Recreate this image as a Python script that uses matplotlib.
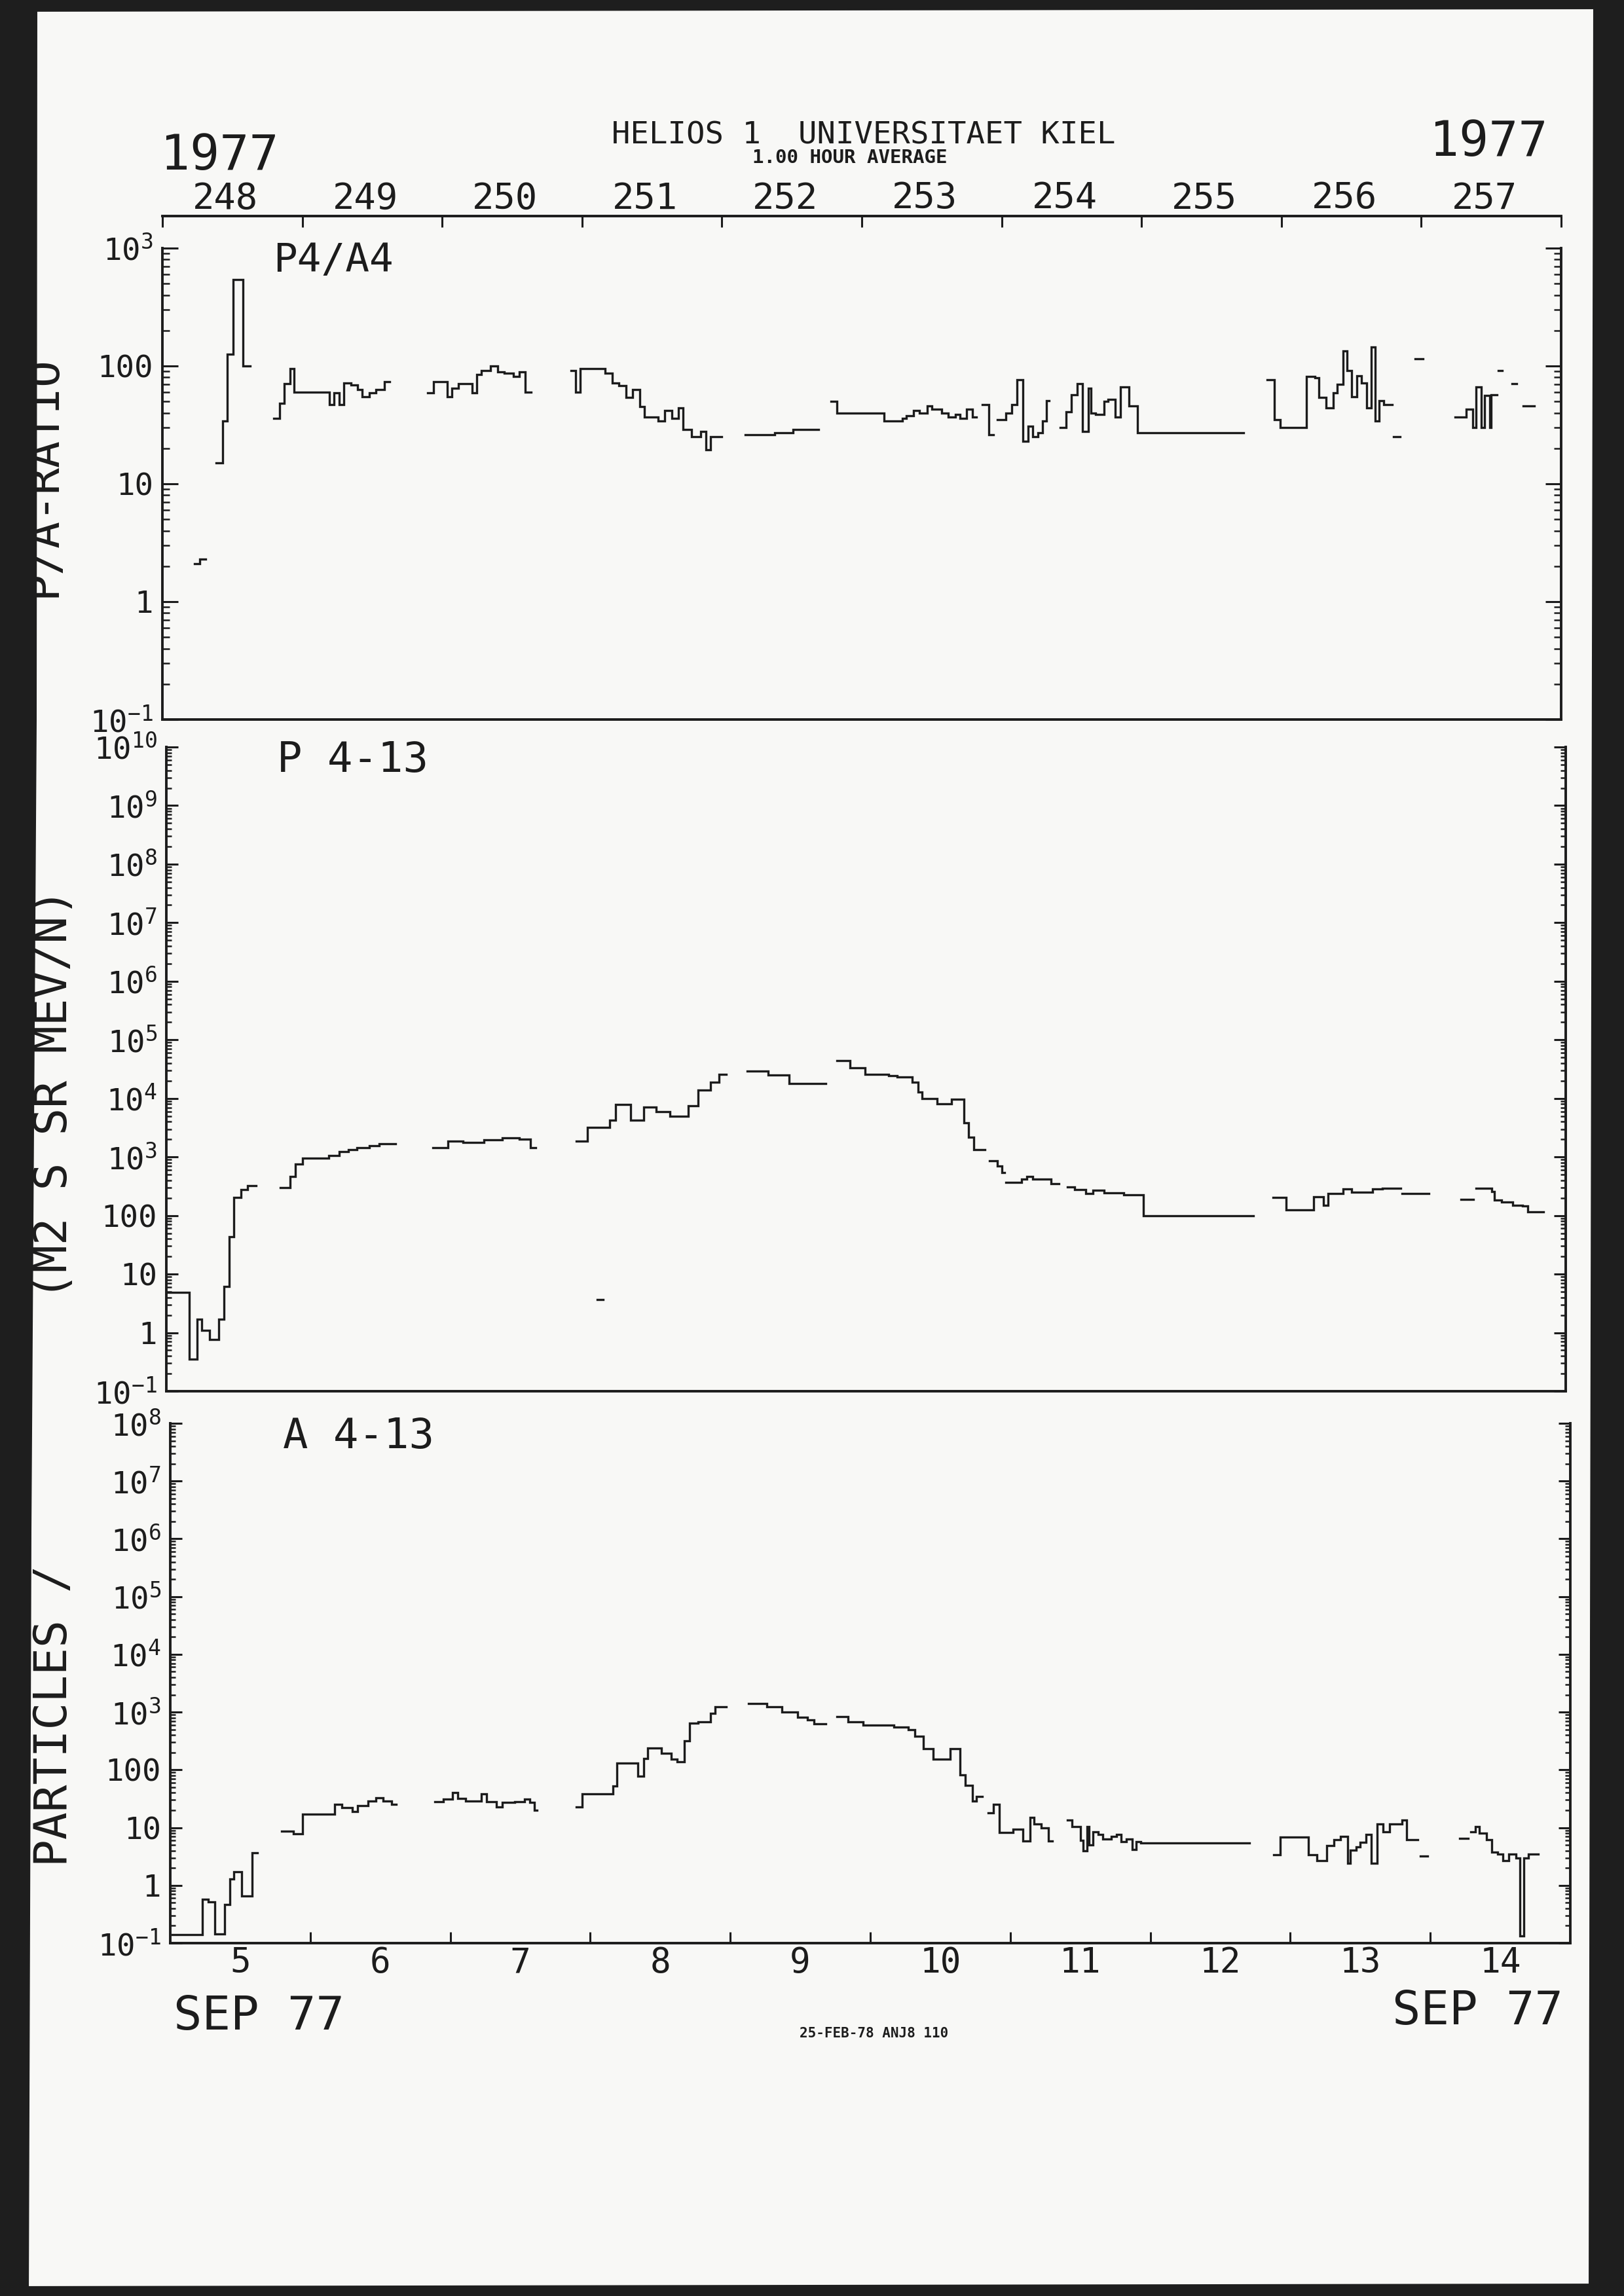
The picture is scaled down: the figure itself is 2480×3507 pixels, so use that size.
"""HELIOS 1 / Univ. Kiel hourly averages, 5-14 Sep 1977: P4/A4 ratio and
P, A 4-13 intensities. Re-drawn from a scanned plotter page (values read off the scan).
"""
import numpy as np
import matplotlib; matplotlib.use("Agg"); import matplotlib.pyplot as plt
from matplotlib.patches import Polygon
from matplotlib.transforms import Affine2D
from matplotlib.ticker import LogLocator, FixedLocator, NullFormatter, FuncFormatter

nan = np.nan
W, H = 2480, 3507

# time axis: days since 1977-09-05 00:00 (DOY 248)
doy_labels = ["248", "249", "250", "251", "252", "253", "254", "255", "256", "257"]
day_labels = ["5", "6", "7", "8", "9", "10", "11", "12", "13", "14"]

# ── P4/A4 ratio (step starts; nan closes a segment) ─────────────────────────
p1_t = [0.23, 0.265, 0.31,
        0.386, 0.429, 0.462, 0.504, 0.577, 0.626,
        0.796, 0.838, 0.871, 0.911, 0.943, 1.193, 1.226, 1.265, 1.298, 1.347, 1.396, 1.429, 1.478, 1.527, 1.586, 1.625,
        1.894, 1.937, 2.035, 2.068, 2.117, 2.215, 2.248, 2.281, 2.347, 2.396, 2.445, 2.51, 2.55, 2.593, 2.635,
        2.92, 2.953, 2.986, 3.166, 3.215, 3.264, 3.314, 3.363, 3.412, 3.445, 3.543, 3.593, 3.642, 3.691, 3.723,
        3.782, 3.848, 3.887, 3.92, 4.0,
        4.166, 4.378, 4.51, 4.69,
        4.78, 4.82, 5.16, 5.29, 5.32, 5.37, 5.41, 5.47, 5.50, 5.57, 5.62, 5.67, 5.70, 5.75, 5.79, 5.82,
        5.86, 5.91, 5.94,
        5.97, 6.03, 6.07, 6.11, 6.15, 6.19, 6.22, 6.26, 6.29, 6.32, 6.34,
        6.42, 6.46, 6.50, 6.54, 6.58, 6.62, 6.64, 6.67, 6.73, 6.76, 6.81, 6.85, 6.91, 6.97, 7.73,
        7.90, 7.95, 7.99, 8.18, 8.24, 8.27, 8.32, 8.37, 8.40, 8.44, 8.47, 8.50, 8.54, 8.57, 8.61, 8.64, 8.67,
        8.70, 8.73, 8.79,
        8.80, 8.85,
        8.955, 9.01,
        9.24, 9.32, 9.37, 9.39, 9.43, 9.45, 9.49, 9.50, 9.54,
        9.55, 9.58,
        9.65, 9.68,
        9.73, 9.81]
p1_v = [2.1, 2.3, nan,
        15, 34, 126, 540, 100, nan,
        36, 48, 71, 95, 60, 47, 59, 47, 72, 69, 63, 55, 59, 63, 74, nan,
        59, 74, 55, 65, 71, 59, 85, 91, 100, 89, 87, 81, 89, 60, nan,
        91, 60, 95, 87, 72, 68, 54, 63, 45, 37, 34, 42, 36, 44, 29,
        25, 28, 19.5, 25, nan,
        26, 27, 29, nan,
        50, 40, 34, 36, 38, 42, 40, 46, 43, 40, 37, 39, 36, 43, 37, nan,
        47, 26, nan,
        35, 40, 47, 76, 23, 31, 25, 27, 34, 51, nan,
        30, 41, 57, 71, 28, 65, 40, 39, 50, 52, 37, 66, 46, 27, nan,
        76, 35, 30, 81, 79, 54, 44, 59, 70, 135, 91, 55, 83, 72, 44, 145, 34,
        51, 47, nan,
        25, nan,
        115, nan,
        37, 43, 30, 66, 30, 56, 30, 57, nan,
        91, nan,
        71, nan,
        46, nan]

# ── P 4-13 ───────────────────────────────────────────────────────────────────
p2_t = [0.0, 0.162, 0.218, 0.255, 0.31, 0.375, 0.413, 0.447, 0.484, 0.532, 0.58, 0.643,
        0.816, 0.883, 0.92, 0.975, 1.16, 1.234, 1.30, 1.36, 1.45, 1.52, 1.64,
        1.906, 2.01, 2.12, 2.27, 2.40, 2.52, 2.60, 2.64,
        2.93, 3.01, 3.17, 3.21, 3.32, 3.41, 3.50, 3.60, 3.73, 3.80, 3.89, 3.95, 4.0,
        4.15, 4.30, 4.45, 4.71,
        4.79, 4.885, 4.995, 5.16, 5.22, 5.33, 5.37, 5.40, 5.51, 5.61, 5.70, 5.73, 5.77, 5.85,
        5.88, 5.94, 5.97, 5.99,
        6.0, 6.11, 6.15, 6.19, 6.32, 6.38,
        6.44, 6.49, 6.57, 6.62, 6.70, 6.84, 6.98, 7.77,
        7.91, 8.0, 8.20, 8.27, 8.30, 8.41, 8.47, 8.62, 8.69, 8.82,
        8.83, 9.02,
        9.25, 9.34,
        9.36, 9.47, 9.49, 9.54, 9.62, 9.69, 9.73, 9.84,
        3.08, 3.12]
p2_v = [4.9, 0.35, 1.7, 1.1, 0.76, 1.7, 6.2, 44, 204, 275, 320, nan,
        300, 460, 760, 950, 1050, 1250, 1350, 1450, 1550, 1700, nan,
        1450, 1850, 1750, 1950, 2100, 2000, 1450, nan,
        1850, 3200, 4300, 7900, 4300, 7100, 6000, 5000, 7400, 14000, 19000, 26000, nan,
        29000, 25000, 18000, nan,
        44000, 33000, 26000, 24500, 23000, 19000, 13000, 10000, 8100, 9800, 3800, 2200, 1350, nan,
        870, 700, 540, nan,
        370, 420, 470, 420, 350, nan,
        310, 275, 235, 270, 245, 225, 100, nan,
        205, 126, 209, 151, 240, 282, 251, 282, 295, nan,
        240, nan,
        190, nan,
        290, 255, 185, 170, 150, 145, 115, nan,
        3.7, nan]

# ── A 4-13 ───────────────────────────────────────────────────────────────────
p3_t = [0.014, 0.227, 0.271, 0.319, 0.389, 0.426, 0.455, 0.51, 0.584, 0.62,
        0.797, 0.878, 0.944, 1.172, 1.227, 1.301, 1.337, 1.411, 1.467, 1.522, 1.58, 1.614,
        1.889, 1.952, 2.018, 2.055, 2.11, 2.22, 2.26, 2.33, 2.37, 2.46, 2.53, 2.57, 2.60, 2.62,
        2.90, 2.94, 3.16, 3.19, 3.34, 3.38, 3.41, 3.51, 3.58, 3.62, 3.67, 3.71, 3.77, 3.86, 3.89, 3.97,
        4.13, 4.26, 4.37, 4.48, 4.55, 4.60, 4.68,
        4.76, 4.84, 4.95, 5.17, 5.27, 5.32, 5.38, 5.45, 5.57, 5.64, 5.68, 5.73, 5.76, 5.80,
        5.84, 5.88, 5.92, 6.02, 6.09, 6.14, 6.17, 6.22, 6.27, 6.30,
        6.41, 6.44, 6.50, 6.52, 6.55, 6.56, 6.59, 6.63, 6.66, 6.72, 6.76, 6.79, 6.83, 6.87, 6.90, 6.93, 7.71,
        7.88, 7.93, 8.13, 8.19, 8.26, 8.31, 8.36, 8.41, 8.43, 8.47, 8.50, 8.54, 8.58, 8.62, 8.66, 8.71,
        8.80, 8.83, 8.91,
        8.93, 8.98,
        9.21, 9.27,
        9.29, 9.32, 9.35, 9.40, 9.44, 9.48, 9.52, 9.56, 9.61, 9.64, 9.67, 9.70, 9.77]
p3_v = [0.14, 0.58, 0.52, 0.145, 0.47, 1.3, 1.7, 0.65, 3.7, nan,
        8.7, 7.9, 17, 25, 22, 19, 24, 29, 33, 29, 25, nan,
        28, 31, 40, 32, 29, 38, 28, 23, 27, 28, 31, 27, 20, nan,
        23, 38, 52, 132, 77, 158, 236, 196, 155, 138, 316, 650, 680, 950, 1250, nan,
        1400, 1230, 1000, 810, 740, 620, nan,
        830, 680, 590, 550, 500, 380, 235, 155, 235, 81, 54, 29, 35, nan,
        18, 25, 8.3, 9.4, 5.9, 15, 11.5, 10, 5.9, nan,
        13.5, 10.5, 6.0, 4.0, 10.5, 5.0, 8.4, 7.7, 6.3, 7.0, 7.7, 5.7, 6.3, 4.2, 5.7, 5.4, nan,
        3.4, 6.8, 3.4, 2.7, 4.9, 6.2, 7.1, 2.4, 4.1, 4.6, 5.6, 7.7, 2.4, 11.5, 8.4, 11.5,
        13.4, 6.2, nan,
        3.2, nan,
        6.5, nan,
        8.5, 10.5, 8.1, 6.1, 3.8, 3.5, 2.7, 3.5, 3.0, 0.135, 3.0, 3.5, nan]

plt.rcParams["font.family"] = ["DejaVu Sans Mono", "DejaVu Sans"]
INK, PAPER, SCAN = "#1c1c1c", "#f8f8f6", "#1e1e1e"

fig = plt.figure(figsize=(W/100, H/100), dpi=100, facecolor=PAPER)
PX = Affine2D().scale(1/W, -1/H).translate(0, 1) + fig.transFigure   # page pixels, y down

def rect(x0, x1, ytop, ybot): return [x0/W, 1-ybot/H, (x1-x0)/W, (ybot-ytop)/H]
def txt(x, y, s, **kw): fig.text(x/W, 1-y/H, s, color=INK, **kw)

def ylab(v, pos):
    e = int(round(np.log10(v)))
    return f"{10**e}" if 0 <= e <= 2 else rf"$\mathregular{{10^{{{e}}}}}$"

panels = [(rect(248, 2384, 379, 1099), p1_t, p1_v, 1e3, 17, 8),
          (rect(254, 2391, 1141, 2125), p2_t, p2_v, 1e10, 13, 6),
          (rect(260, 2398, 2174, 2968), p3_t, p3_v, 1e8, 13, 6)]
axes = []
for box, t, v, ytop, lmaj, lmin in panels:
    ax = fig.add_axes(box, facecolor="none")
    ax.step(t, v, where="post", color=INK, lw=2.4, solid_joinstyle="miter")
    ax.set_yscale("log"); ax.set_ylim(0.1, ytop); ax.set_xlim(0, 10)
    ax.yaxis.set_major_locator(LogLocator(base=10, numticks=40))
    ax.yaxis.set_minor_locator(LogLocator(base=10, subs=np.arange(2, 10), numticks=200))
    ax.yaxis.set_major_formatter(FuncFormatter(ylab)); ax.yaxis.set_minor_formatter(NullFormatter())
    ax.tick_params(axis="y", which="major", direction="in", left=True, right=True, length=lmaj,
                   width=2.2, color=INK, labelsize=34, labelcolor=INK, pad=10)
    ax.tick_params(axis="y", which="minor", direction="in", left=True, right=True, length=lmin,
                   width=1.8, color=INK)
    for s in ("left", "right", "bottom"): ax.spines[s].set_linewidth(2.8); ax.spines[s].set_color(INK)
    ax.spines["top"].set_visible(False)
    ax.tick_params(axis="x", which="both", bottom=False, top=False, labelbottom=False)
    axes.append(ax)
ax1, ax2, ax3 = axes

# day-of-year axis above the top panel
ax1.spines["top"].set_visible(True); ax1.spines["top"].set_position(("outward", 35))
ax1.spines["top"].set_linewidth(2.8); ax1.spines["top"].set_color(INK)
ax1.xaxis.set_major_locator(FixedLocator(np.arange(0, 11)))
ax1.xaxis.set_major_formatter(NullFormatter())
ax1.xaxis.set_minor_locator(FixedLocator(np.arange(10) + 0.45))
ax1.set_xticklabels(doy_labels, minor=True)
ax1.tick_params(axis="x", which="major", top=True, direction="in", length=12, width=2.2, color=INK)
ax1.tick_params(axis="x", which="minor", top=True, labeltop=True, length=0, labelsize=40,
                labelcolor=INK, pad=0)

# calendar days under the bottom panel
ax3.xaxis.set_major_locator(FixedLocator(np.arange(1, 10)))
ax3.xaxis.set_major_formatter(NullFormatter())
ax3.xaxis.set_minor_locator(FixedLocator(np.arange(10) + 0.5))
ax3.set_xticklabels(day_labels, minor=True)
ax3.tick_params(axis="x", which="major", bottom=True, direction="in", length=12, width=2.2, color=INK)
ax3.tick_params(axis="x", which="minor", bottom=True, labelbottom=True, length=0, labelsize=38,
                labelcolor=INK, pad=3)

# panel names, headers, footers
txt(417, 415, "P4/A4", fontsize=44, va="baseline")
txt(423, 1179, "P 4-13", fontsize=46, va="baseline")
txt(432, 2212, "A 4-13", fontsize=46, va="baseline")
txt(1319, 220, "HELIOS 1  UNIVERSITAET KIEL", fontsize=34, ha="center", va="baseline")
txt(1298, 249, "1.00 HOUR AVERAGE", fontsize=21, ha="center", va="baseline", fontweight="bold")
txt(245, 259, "1977", fontsize=54, va="baseline")
txt(2363, 238, "1977", fontsize=54, ha="right", va="baseline")
txt(265, 3100, "SEP 77", fontsize=52, va="baseline")
txt(2387, 3092, "SEP 77", fontsize=52, ha="right", va="baseline")
txt(1335, 3112, "25-FEB-78 ANJ8 110", fontsize=15, ha="center", va="baseline", fontweight="bold")

# rotated axis titles (first one partly lost under the scan edge)
txt(66, 727, "P/A-RATIO", fontsize=49, rotation=90, ha="center", va="center")
txt(83, 1671, "(M2 S SR MEV/N)", fontsize=50, rotation=90, ha="center", va="center")
txt(83, 2621, "PARTICLES /", fontsize=50, rotation=90, ha="center", va="center")

# dark scanner bed around the sheet
for pts in ([(0, 0), (57, 0), (56, 1100), (48, 2340), (44, H), (0, H)],
            [(0, 0), (W, 0), (W, 14), (0, 18)],
            [(2433, 0), (W, 0), (W, H), (2426, H)],
            [(0, 3492), (W, 3488), (W, H), (0, H)]):
    fig.add_artist(Polygon(pts, closed=True, transform=PX, facecolor=SCAN, edgecolor="none", zorder=100))

fig.savefig("out.png", dpi=100, facecolor=PAPER)
